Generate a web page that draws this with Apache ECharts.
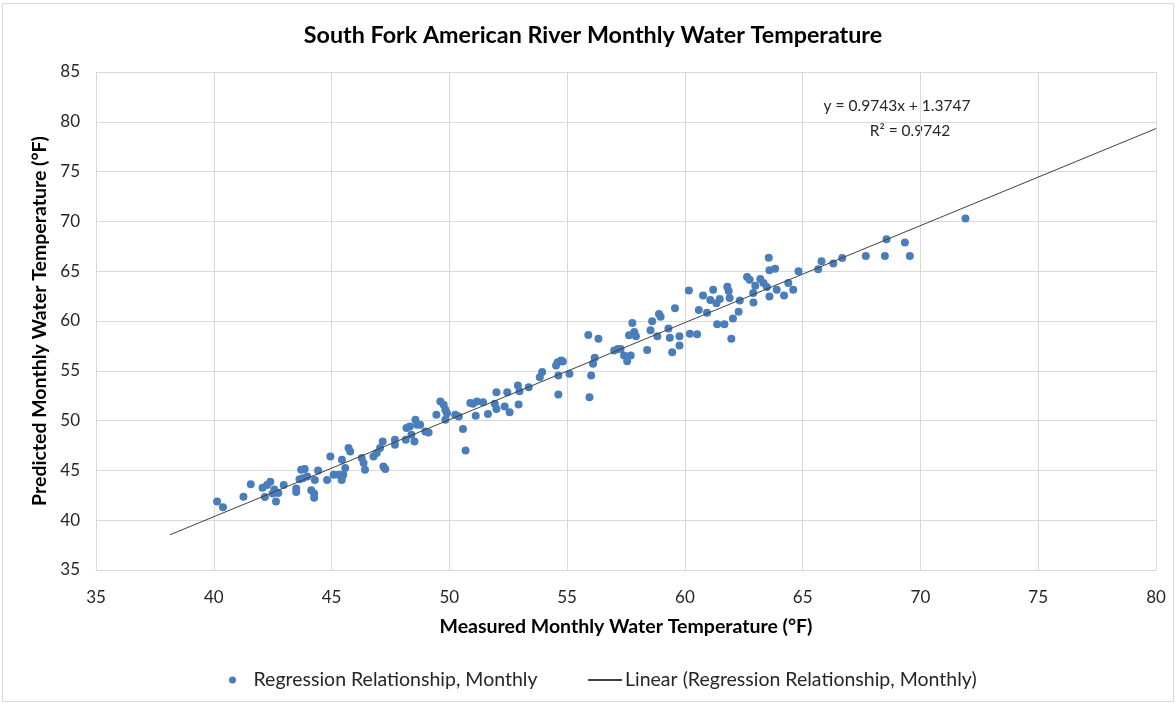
<!DOCTYPE html>
<html>
<head>
<meta charset="utf-8">
<title>South Fork American River Monthly Water Temperature</title>
<script src="https://cdn.jsdelivr.net/npm/echarts@6/dist/echarts.min.js"></script>
<style>
  html, body { margin: 0; padding: 0; background: #ffffff; }
  #chart { width: 1176px; height: 704px; }
</style>
</head>
<body>
<div id="chart"></div>
<script>
// Measured vs. predicted monthly water temperature (°F)
const measuredF = [
  40.14, 40.39, 41.26, 41.57, 42.07, 42.17, 42.26, 42.40, 42.50, 42.57,
  42.64, 42.74, 42.97, 43.50, 43.50, 43.64, 43.71, 43.79, 43.86, 43.97,
  44.14, 44.26, 44.26, 44.29, 44.43, 44.81,
  44.95, 45.44, 45.30, 45.09, 45.58, 45.50, 45.72, 45.79, 45.43, 46.28,
  46.36, 46.42, 46.78, 46.92, 47.17, 47.20, 47.28, 47.06, 47.69, 47.69,
  48.18, 48.15, 48.32, 48.39, 48.56, 48.52, 48.63, 48.76, 48.98, 49.12,
  49.45, 49.62, 49.76, 49.83, 49.90, 49.83, 50.25, 50.40, 50.58, 50.69,
  50.89, 51.00, 51.17, 51.12,
  51.43, 51.64, 51.93, 52.00, 52.00, 52.35, 52.46, 52.56, 52.91, 52.94,
  52.98, 53.37, 53.84, 53.94, 54.60, 54.53, 54.75, 54.82, 54.63, 54.63,
  55.10, 55.90, 56.33, 55.95, 56.02, 56.10, 56.17, 57.00, 57.15,
  57.27, 57.42, 57.55, 57.70, 57.77, 57.63, 57.85, 57.92, 58.40, 58.54,
  58.61, 58.83, 58.90, 58.97, 59.30, 59.36, 59.46, 59.58, 59.77, 59.77,
  60.17, 60.21, 60.52, 60.59, 60.77, 60.94, 61.08, 61.20, 61.34, 61.37,
  61.48, 61.68, 61.80, 61.86, 61.90, 61.97, 62.04, 62.28, 62.33, 62.64,
  62.75, 62.90, 62.91, 62.99, 63.20, 63.34, 63.48, 63.56, 63.59, 63.59,
  63.83, 63.90,
  64.21, 64.39, 64.60, 64.82, 65.66, 65.80, 66.30, 66.68, 67.68, 68.49,
  68.56, 69.34, 69.55, 71.91
];
const predictedF = [
  41.88, 41.30, 42.36, 43.60, 43.25, 42.33, 43.53, 43.87, 42.67, 43.08,
  41.88, 42.74, 43.53, 43.18, 42.84, 44.10, 45.07, 44.20, 45.14, 44.38,
  43.01, 42.67, 42.26, 44.04, 45.00, 44.04,
  46.40, 46.07, 44.57, 44.57, 45.23, 44.57, 47.24, 46.90, 44.04, 46.24,
  45.74, 45.07, 46.40, 46.74, 47.91, 45.40, 45.13, 47.24, 48.08, 47.58,
  49.25, 48.08, 49.41, 48.58, 50.08, 47.91, 49.58, 49.58, 48.91, 48.81,
  50.58, 51.92, 51.59, 51.09, 50.75, 50.08, 50.58, 50.42, 49.15, 47.00,
  51.76, 51.69, 51.92, 50.48,
  51.85, 50.67, 51.68, 52.85, 51.17, 51.41, 52.85, 50.84, 53.52, 51.61,
  52.95, 53.36, 54.36, 54.87, 55.87, 55.54, 56.04, 55.94, 54.53, 52.62,
  54.70, 58.60, 58.22, 52.35, 54.53, 55.70, 56.30, 57.05, 57.20,
  57.20, 56.53, 55.95, 56.53, 59.81, 58.56, 58.90, 58.46, 57.10, 59.07,
  59.98, 58.46, 60.70, 60.42, 59.24, 58.32, 56.86, 61.27, 58.46, 57.54,
  63.07, 58.73, 58.66, 61.10, 62.56, 60.83, 62.12, 63.14, 61.79, 59.68,
  62.20, 59.68, 63.44, 63.00, 62.32, 58.22, 60.25, 60.93, 62.05, 64.42,
  64.15, 62.80, 61.85, 63.54, 64.22, 63.81, 63.41, 66.36, 62.46, 65.10,
  65.24, 63.14,
  62.57, 63.82, 63.14, 65.00, 65.20, 66.01, 65.78, 66.32, 66.52, 66.52,
  68.21, 67.87, 66.52, 70.30
];

// Linear trendline as reported by the regression
const slope = 0.9743;
const intercept = 1.3747;
const rSquared = 0.9742;
const trendFromX = 38.14;
const trendToX = 80;

const xTicks = { min: 35, max: 80, step: 5 };
const yTicks = { min: 35, max: 85, step: 5 };

const scatterName = 'Regression Relationship, Monthly';
const trendName = 'Linear (Regression Relationship, Monthly)';

const points = measuredF.map((x, i) => [x, predictedF[i]]);
const trendLine = [trendFromX, trendToX].map(x => [x, slope * x + intercept]);

const FONT = 'Lato, "Liberation Sans", sans-serif';
const TEXT_DARK = '#262626';
const chart = echarts.init(document.getElementById('chart'), null, { renderer: 'canvas' });

chart.setOption({
  animation: false,
  backgroundColor: '#ffffff',
  textStyle: { fontFamily: FONT },
  grid: { left: 96, right: 20, top: 72, bottom: 134, containLabel: false },
  xAxis: {
    type: 'value',
    min: xTicks.min, max: xTicks.max, interval: xTicks.step,
    name: 'Measured Monthly Water Temperature (°F)',
    nameLocation: 'middle',
    nameGap: 47,
    nameTextStyle: { fontFamily: FONT, fontSize: 19.5, fontWeight: 'bold', color: '#000000' },
    axisLine: { show: true, lineStyle: { color: '#d9d9d9', width: 1 } },
    axisTick: { show: false },
    axisLabel: { fontFamily: FONT, fontSize: 17, color: TEXT_DARK, margin: 19 },
    splitLine: { show: true, lineStyle: { color: '#d9d9d9', width: 1 } }
  },
  yAxis: {
    type: 'value',
    min: yTicks.min, max: yTicks.max, interval: yTicks.step,
    name: 'Predicted Monthly Water Temperature (°F)',
    nameLocation: 'middle',
    nameGap: 44,
    nameTextStyle: { fontFamily: FONT, fontSize: 19.5, fontWeight: 'bold', color: '#000000' },
    axisLine: { show: false },
    axisTick: { show: false },
    axisLabel: { fontFamily: FONT, fontSize: 17, color: TEXT_DARK, margin: 16 },
    splitLine: { show: true, lineStyle: { color: '#d9d9d9', width: 1 } }
  },
  legend: [
    {
      data: [{ name: scatterName, icon: 'circle' }],
      left: 224, top: 665,
      itemWidth: 32, itemHeight: 7,
      textStyle: { fontFamily: FONT, fontSize: 19.5, color: TEXT_DARK }
    },
    {
      data: [{ name: trendName, itemStyle: { opacity: 0 } }],
      left: 582, top: 665,
      itemWidth: 34, itemHeight: 7,
      textStyle: { fontFamily: FONT, fontSize: 19.5, color: TEXT_DARK, padding: [0, 0, 0, -2] }
    }
  ],
  graphic: [
    {
      type: 'rect', silent: true, z: -10,
      shape: { x: 2.5, y: 3.5, width: 1171, height: 698 },
      style: { fill: 'none', stroke: '#d9d9d9', lineWidth: 1 }
    },
    {
      type: 'text', x: 593, y: 35,
      style: {
        text: 'South Fork American River Monthly Water Temperature',
        fontFamily: FONT, fontSize: 23.3, fontWeight: 'bold', fill: '#000000',
        align: 'center', verticalAlign: 'middle'
      }
    },
    {
      type: 'text', x: 897, y: 106,
      style: {
        text: 'y = ' + slope.toFixed(4) + 'x + ' + intercept.toFixed(4),
        fontFamily: FONT, fontSize: 15.5, fill: TEXT_DARK,
        align: 'center', verticalAlign: 'middle'
      }
    },
    {
      type: 'text', x: 910, y: 131,
      style: {
        text: 'R² = ' + rSquared.toFixed(4),
        fontFamily: FONT, fontSize: 15.5, fill: TEXT_DARK,
        align: 'center', verticalAlign: 'middle'
      }
    }
  ],
  series: [
    {
      name: scatterName,
      type: 'scatter',
      data: points,
      symbol: 'circle',
      symbolSize: 8,
      itemStyle: { color: '#4a7ebb', opacity: 1 },
      z: 3
    },
    {
      name: trendName,
      type: 'line',
      data: trendLine,
      showSymbol: false,
      symbol: 'none',
      lineStyle: { color: '#404040', width: 1 },
      z: 4
    }
  ]
});
</script>
</body>
</html>
